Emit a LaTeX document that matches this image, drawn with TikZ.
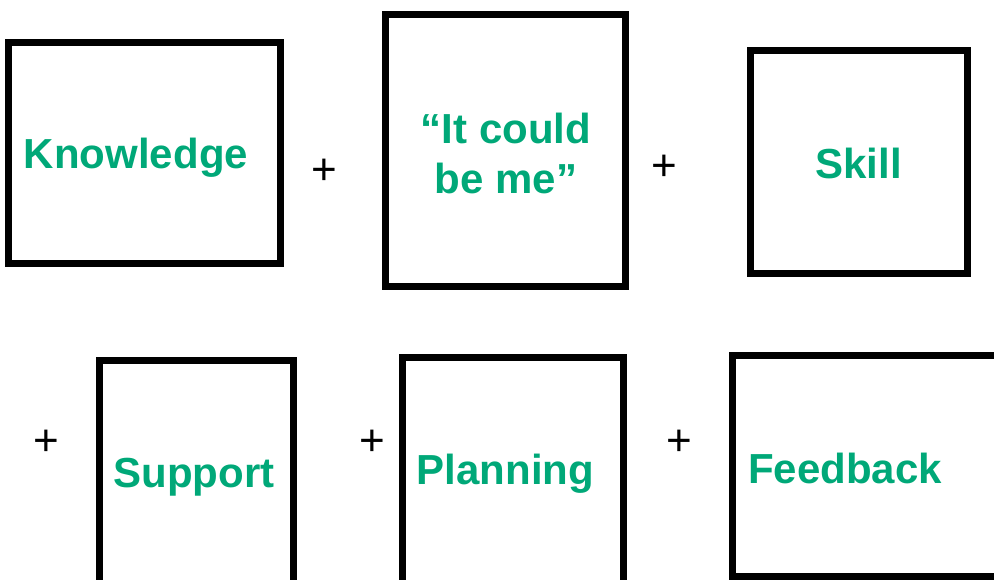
\documentclass[tikz,border=0pt]{standalone}
\usepackage{fontspec}
\setmainfont{Liberation Sans}
\definecolor{lblgreen}{RGB}{0,168,120}
\begin{document}
\begin{tikzpicture}[x=1pt,y=-1pt,
  box/.style={draw=black,line width=7pt,inner sep=0pt,fill=none},
  lbl/.style={text=lblgreen,font=\fontsize{42}{50}\selectfont\bfseries,inner sep=0pt,anchor=base},
  plus/.style={font=\fontsize{44}{50}\selectfont,inner sep=0pt,anchor=base}]
\useasboundingbox (0,0) rectangle (994,579);
\clip (0,0) rectangle (994,579);
% boxes
\node[box,minimum width=272pt,minimum height=221pt] (kbox) at (144,152.5) {};
\node[box,minimum width=240pt,minimum height=272pt] (ibox) at (505.5,150.5) {};
\node[box,minimum width=217pt,minimum height=223pt] (sbox) at (859,162) {};
\node[box,minimum width=194.5pt,minimum height=279.5pt] (supbox) at (196.25,500.25) {};
\node[box,minimum width=221pt,minimum height=282.5pt] (pbox) at (512.5,498.75) {};
\node[box,minimum width=327.5pt,minimum height=220.5pt] (fbox) at (896.25,465.75) {};
% labels
\node[lbl] (ktext) at (136,168) {Knowledge};
\node[lbl,align=center] (itext) at (506,193) {“It could\\be me”};
\node[lbl] (stext) at (858.5,178) {Skill};
\node[lbl] (suptext) at (194,487) {Support};
\node[lbl] (ptext) at (505.5,484) {Planning};
\node[lbl] (ftext) at (845,483) {Feedback};
% plus signs
\node[plus] (p1) at (324,184) {+};
\node[plus] (p2) at (664,180) {+};
\node[plus] (p3) at (46,455) {+};
\node[plus] (p4) at (372,455) {+};
\node[plus] (p5) at (679,455) {+};
\end{tikzpicture}
\end{document}
